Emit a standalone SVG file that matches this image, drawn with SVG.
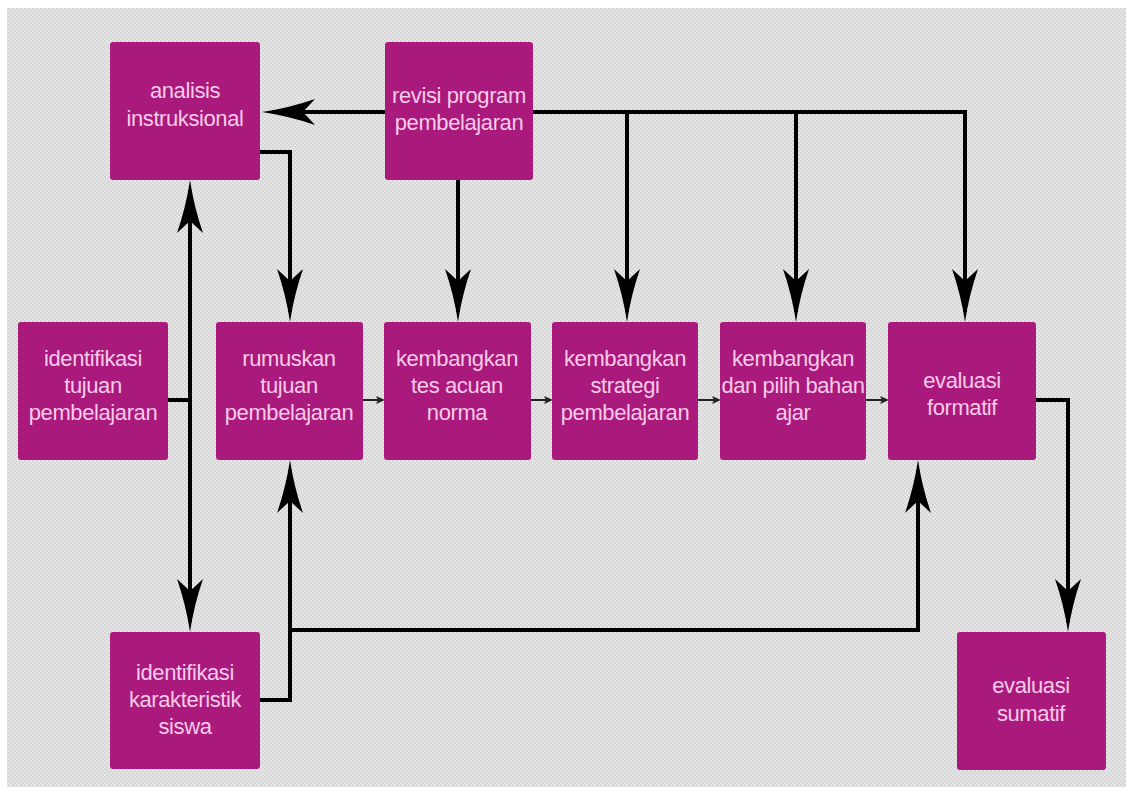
<svg xmlns="http://www.w3.org/2000/svg" width="1126" height="793" viewBox="0 0 1126 793">
<style>
.box{fill:#aa1a7c;}
.lbl{font-family:"Liberation Sans",Arial,sans-serif;font-size:22px;letter-spacing:-0.4px;fill:#f6cbe9;text-anchor:middle;}
.con{fill:none;stroke:#000;stroke-width:4;stroke-linejoin:miter;}
.thin{fill:none;stroke:#222;stroke-width:2;}
</style>
<defs>
<pattern id="chk" width="4" height="4" patternUnits="userSpaceOnUse">
<rect width="4" height="4" fill="#e6e6e6"/>
<rect width="2" height="2" fill="#d6d6d6"/>
<rect x="2" y="2" width="2" height="2" fill="#d6d6d6"/>
</pattern>
<marker id="ah" markerUnits="userSpaceOnUse" markerWidth="60" markerHeight="30" viewBox="0 0 60 30" refX="45" refY="13" orient="auto-start-reverse">
<path d="M55,13 Q28,9 2,0 L14,13 L2,26 Q28,17 55,13 Z" fill="#000"/>
</marker>
<marker id="sah" markerUnits="userSpaceOnUse" markerWidth="10" markerHeight="10" viewBox="0 0 10 10" refX="6" refY="4" orient="auto">
<path d="M0,0 L9,4 L0,8 L2,4 Z" fill="#222"/>
</marker>
</defs>
<rect width="1126" height="793" fill="#ffffff"/>
<rect x="7" y="8" width="1119" height="779" fill="url(#chk)"/>

<g id="connectors">
<path class="con" d="M385,112 H272" marker-end="url(#ah)"/>
<path class="con" d="M533,112 H965 V312" marker-end="url(#ah)"/>
<path class="con" d="M627,112 V312" marker-end="url(#ah)"/>
<path class="con" d="M796,112 V312" marker-end="url(#ah)"/>
<path class="con" d="M458,180 V312" marker-end="url(#ah)"/>
<path class="con" d="M260,152 H290 V312" marker-end="url(#ah)"/>
<path class="con" d="M190,190 V622" marker-start="url(#ah)" marker-end="url(#ah)"/>
<path class="con" d="M168,400 H190"/>
<path class="con" d="M260,700 H290 V470" marker-end="url(#ah)"/>
<path class="con" d="M290,630 H918 V470" marker-end="url(#ah)"/>
<path class="con" d="M1036,400 H1068 V622" marker-end="url(#ah)"/>
<path class="thin" d="M363,400 H382" marker-end="url(#sah)"/>
<path class="thin" d="M531,400 H550" marker-end="url(#sah)"/>
<path class="thin" d="M698,400 H718" marker-end="url(#sah)"/>
<path class="thin" d="M866,400 H886" marker-end="url(#sah)"/>
</g>

<g id="analisis">
<rect class="box" x="110" y="42" width="150" height="138" rx="3"/>
<text class="lbl" x="185" y="98">analisis</text>
<text class="lbl" x="185" y="126">instruksional</text>
</g>
<g id="revisi">
<rect class="box" x="385" y="42" width="148" height="138" rx="3"/>
<text class="lbl" x="459" y="103">revisi program</text>
<text class="lbl" x="459" y="130">pembelajaran</text>
</g>
<g id="identifikasi-tujuan">
<rect class="box" x="18" y="322" width="150" height="138" rx="3"/>
<text class="lbl" x="93" y="366">identifikasi</text>
<text class="lbl" x="93" y="393">tujuan</text>
<text class="lbl" x="93" y="420">pembelajaran</text>
</g>
<g id="rumuskan">
<rect class="box" x="216" y="322" width="147" height="138" rx="3"/>
<text class="lbl" x="289" y="366">rumuskan</text>
<text class="lbl" x="289" y="393">tujuan</text>
<text class="lbl" x="289" y="420">pembelajaran</text>
</g>
<g id="tes">
<rect class="box" x="384" y="322" width="147" height="138" rx="3"/>
<text class="lbl" x="457" y="366">kembangkan</text>
<text class="lbl" x="457" y="393">tes acuan</text>
<text class="lbl" x="457" y="420">norma</text>
</g>
<g id="strategi">
<rect class="box" x="552" y="322" width="146" height="138" rx="3"/>
<text class="lbl" x="625" y="366">kembangkan</text>
<text class="lbl" x="625" y="393">strategi</text>
<text class="lbl" x="625" y="420">pembelajaran</text>
</g>
<g id="bahan-ajar">
<rect class="box" x="720" y="322" width="146" height="138" rx="3"/>
<text class="lbl" x="793" y="366">kembangkan</text>
<text class="lbl" x="793" y="393">dan pilih bahan</text>
<text class="lbl" x="793" y="420">ajar</text>
</g>
<g id="formatif">
<rect class="box" x="888" y="322" width="148" height="138" rx="3"/>
<text class="lbl" x="962" y="388">evaluasi</text>
<text class="lbl" x="962" y="415">formatif</text>
</g>
<g id="karakteristik">
<rect class="box" x="110" y="632" width="150" height="137" rx="3"/>
<text class="lbl" x="185" y="680">identifikasi</text>
<text class="lbl" x="185" y="707">karakteristik</text>
<text class="lbl" x="185" y="734">siswa</text>
</g>
<g id="sumatif">
<rect class="box" x="957" y="632" width="149" height="138" rx="3"/>
<text class="lbl" x="1031" y="693">evaluasi</text>
<text class="lbl" x="1031" y="721">sumatif</text>
</g>
</svg>
